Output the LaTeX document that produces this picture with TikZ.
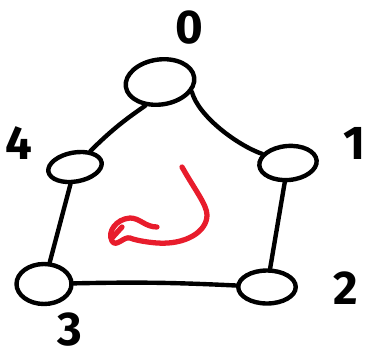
\documentclass[tikz,border=0pt]{standalone}
\usepackage{fontspec}
\setmainfont{Fira Sans}
\usetikzlibrary{shapes.geometric}
\definecolor{penred}{RGB}{232,28,44}
\tikzset{
  vertex/.style={draw, ellipse, inner sep=0pt, line width=2.5pt},
  num/.style={font=\fontsize{27}{30}\selectfont\bfseries},
}
\begin{document}
\begin{tikzpicture}[x=0.02cm, y=-0.02cm, line width=2.5pt, line cap=round]
    \useasboundingbox (0,0) rectangle (370,360);
    % Sommets du cycle
    \node[vertex, minimum width=1.38cm, minimum height=0.9cm, rotate=8] (n0) at (160,82) {};
    \node[vertex, minimum width=1.08cm, minimum height=0.58cm, rotate=10] (n4) at (75,167) {};
    \node[vertex, minimum width=1.15cm, minimum height=0.68cm, rotate=5] (n1) at (288,163) {};
    \node[vertex, minimum width=1.1cm, minimum height=0.8cm] (n3) at (44,284) {};
    \node[vertex, minimum width=1.15cm, minimum height=0.66cm] (n2) at (267,287) {};
    % Numeros
    \node[num] (l0) at (189,28) {0};
    \node[num] (l4) at (19,143) {4};
    \node[num] (l1) at (355,143) {1};
    \node[num] (l2) at (346,288) {2};
    \node[num] (l3) at (70,330) {3};
    % Aretes
    \draw (n0.-130) to[bend right=5] (n4);
    \draw (n0.-25) to[out=-75, in=158, looseness=0.7] (n1);
    \draw (n1) -- (n2);
    \draw (n4) -- (n3);
    \draw (n3) to[bend left=2] (n2);
    % Sens de parcours
    \draw[penred, line width=3pt, line join=round] (182,167) .. controls (195,190) and (207,205) .. (207,215)
        .. controls (207,232) and (185,245) .. (157,243)
        .. controls (145,242) and (135,240) .. (130,238)
        .. controls (124,236) and (116,248) .. (112,241)
        .. controls (107,232) and (116,219) .. (130,218)
        .. controls (140,218) and (145,227) .. (157,227);
    \draw[penred, line width=3pt] (112,238) -- (122,227);
\end{tikzpicture}
\end{document}
